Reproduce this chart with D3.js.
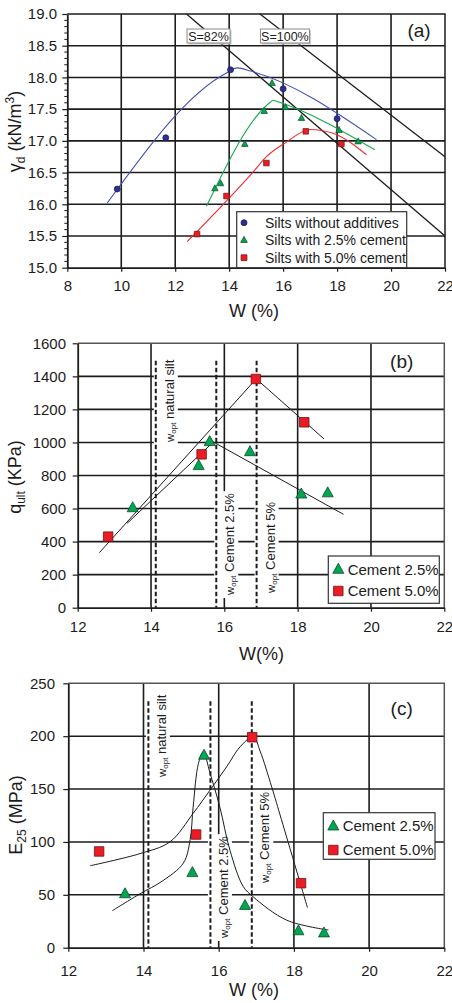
<!DOCTYPE html>
<html><head><meta charset="utf-8">
<script src="https://cdn.jsdelivr.net/npm/d3@7/dist/d3.min.js"></script>
<style>
html,body{margin:0;padding:0;background:#fff;}
svg{display:block;}
</style></head><body>
<svg id="fig" width="452" height="1003"></svg>
<script>
// ---------- (a) compaction: dry unit weight vs water content ----------
const xTicksA = [8, 10, 12, 14, 16, 18, 20, 22];
const yTicksA = [15.0, 15.5, 16.0, 16.5, 17.0, 17.5, 18.0, 18.5, 19.0];
const wPlain = [9.85, 11.65, 14.05, 16.0, 18.0];
const gdPlain = [16.24, 17.05, 18.12, 17.82, 17.35];
const wCem25a = [13.47, 13.68, 14.58, 15.3, 15.59, 16.09, 16.68, 18.07, 18.78];
const gdCem25a = [16.25, 16.33, 16.95, 17.47, 17.91, 17.53, 17.36, 17.17, 16.99];
const wCem50a = [12.81, 13.9, 15.38, 16.84, 18.16];
const gdCem50a = [15.53, 16.13, 16.65, 17.15, 16.95];
// fitted compaction curves
const fitPlainW = [9.48, 13.9, 14.3, 14.8, 19.46];
const fitPlainG = [16.02, 18.07, 18.15, 18.1, 17.02];
const fitC25W = [13.16, 15.5, 15.63, 15.78, 19.4];
const fitC25G = [15.97, 17.6, 17.64, 17.62, 16.86];
const fitC50W = [12.44, 14.95, 15.38, 16.12, 16.99, 17.85, 19.09];
const fitC50G = [15.41, 16.54, 16.75, 16.98, 17.18, 17.12, 16.78];
// saturation lines
const satW82 = [12.42, 22], satG82 = [19.0, 15.5];
const satW100 = [15.14, 22], satG100 = [19.0, 16.75];
const satNames = ["S=82%", "S=100%"];
const seriesA = ["Silts without additives", "Silts with 2.5% cement", "Silts with 5.0% cement"];

// ---------- (b) ultimate strength ----------
const xTicksBC = [12, 14, 16, 18, 20, 22];
const yTicksB = [0, 200, 400, 600, 800, 1000, 1200, 1400, 1600];
const wCem25b = [13.5, 15.3, 15.6, 16.7, 18.1, 18.82];
const qCem25 = [605, 860, 1005, 944, 688, 695];
const wCem50b = [12.83, 15.38, 16.86, 18.18];
const qCem50 = [430, 928, 1384, 1122];
const trendC25W = [13.35, 15.7, 19.25], trendC25Q = [511, 1003, 565];
const trendC50W = [12.59, 16.87, 18.72], trendC50Q = [333, 1385, 1021];

// optimum water contents (shared by b and c)
const wOpt = [14.13, 15.78, 16.88];
const wOptNames = ["natural silt", "Cement 2.5%", "Cement 5%"];
const seriesBC = ["Cement 2.5%", "Cement 5.0%"];

// ---------- (c) secant modulus E25 ----------
const yTicksC = [0, 50, 100, 150, 200, 250];
const wCem25c = [13.51, 15.3, 15.61, 16.7, 18.12, 18.8];
const eCem25 = [51, 71, 182, 40, 16, 14];
const wCem50c = [12.82, 15.4, 16.89, 18.19];
const eCem50 = [91, 107, 199, 61];
const curveC25W = [13.17, 13.91, 14.5, 15.06, 15.24, 15.32, 15.46, 15.59, 15.77, 16.03, 16.3, 16.65, 16.92, 17.81, 18.92];
const curveC25E = [35, 51, 63, 80, 102, 133, 174, 185, 165, 133, 92, 58, 48, 26, 16.7];
const curveC50W = [12.58, 13.91, 14.7, 15.32, 15.77, 16.21, 16.57, 16.92, 17.1, 17.41, 17.67, 18.36];
const curveC50E = [77.5, 89, 100, 127, 149, 171, 190, 199.5, 186, 152, 121, 38];

// ---------- drawing ----------
const FONT = '"Liberation Sans", Arial, Helvetica, sans-serif';
const INK = '#1c1c1c';
const COL = {
  plain: '#2e3192', plainEdge: '#15174d', plainLine: '#4450b4',
  c25: '#00a651', c25Edge: '#0b4d26', c25Line: '#12aa4f',
  c50: '#ed1c24', c50Edge: '#6b1515', c50Line: '#ee2b2b'
};
const svg = d3.select('#fig').attr('font-family', FONT);
svg.append('rect').attr('width', 452).attr('height', 1003).attr('fill', '#fff');

const tri = (w, h) => `M0,${-h * 0.6}L${w / 2},${h * 0.4}L${-w / 2},${h * 0.4}Z`;
const sq = s => `M${-s / 2},${-s / 2}h${s}v${s}h${-s}Z`;

function panel(o) {
  const x = d3.scaleLinear(o.xDom, [o.left, o.right]);
  const y = d3.scaleLinear(o.yDom, [o.bottom, o.top]);
  const root = svg.append('g');
  const L = {};
  ['grid', 'boxes', 'refs', 'axes', 'marks', 'keys'].forEach(k => L[k] = root.append('g'));
  L.grid.selectAll(null).data(o.gridX).join('line')
    .attr('x1', d => x(d)).attr('x2', d => x(d)).attr('y1', o.top).attr('y2', o.bottom)
    .attr('stroke', INK).attr('stroke-width', 1.6);
  L.grid.selectAll(null).data(o.gridY).join('line')
    .attr('y1', d => y(d)).attr('y2', d => y(d)).attr('x1', o.left).attr('x2', o.right)
    .attr('stroke', INK).attr('stroke-width', 1.6);
  L.axes.append('path').attr('d', `M${o.left},${o.top}H${o.right}V${o.bottom}`)
    .attr('fill', 'none').attr('stroke', o.frame).attr('stroke-width', 1.5);
  const ay = L.axes.append('g').attr('transform', `translate(${o.left},0)`)
    .call(d3.axisLeft(y).tickValues(o.yTicks).tickFormat(o.yFmt).tickSize(5).tickPadding(o.yPad).tickSizeOuter(0));
  const ax = L.axes.append('g').attr('transform', `translate(0,${o.bottom})`)
    .call(d3.axisBottom(x).tickValues(o.xTicks).tickFormat(d3.format('d')).tickSize(4).tickPadding(o.xPad).tickSizeOuter(0));
  [ay, ax].forEach(a => {
    a.attr('font-family', FONT);
    a.selectAll('text').attr('font-size', 15).attr('fill', INK);
    a.selectAll('line').attr('stroke', INK).attr('stroke-width', 1.2);
    a.select('.domain').attr('stroke', INK).attr('stroke-width', 1.8);
  });
  // axis titles
  L.axes.append('text').attr('x', o.xTitle[0]).attr('y', o.xTitle[1])
    .attr('text-anchor', 'middle').attr('font-size', 18).attr('fill', INK).text(o.xLabel);
  const yt = L.axes.append('text').attr('text-anchor', 'middle').attr('font-size', 18).attr('fill', INK)
    .attr('transform', `translate(${o.yTitle[0]},${o.yTitle[1]}) rotate(-90)`);
  o.yLabel.forEach(p => {
    const s = yt.append('tspan').text(p.t);
    if (p.sub) s.attr('font-size', 12).attr('dy', 4);
    if (p.sup) s.attr('font-size', 12).attr('dy', -7);
    if (p.back) s.attr('dy', p.back);
  });
  L.axes.append('text').attr('x', o.tag[0]).attr('y', o.tag[1]).attr('text-anchor', 'middle')
    .attr('font-size', 19).attr('fill', INK).text(o.tagText);
  return { x, y, L };
}

function woptLabels(P, yTop, bottoms, offset) {
  const { x, y, L } = P;
  wOpt.forEach((w, i) => {
    const xb = x(w) + offset, yb = bottoms[i];
    const t = L.refs.append('text').attr('font-size', 13).attr('fill', INK)
      .attr('transform', `translate(${xb},${yb}) rotate(-90)`);
    t.append('tspan').attr('font-size', 11.5).text('w');
    t.append('tspan').attr('font-size', 8).attr('dy', 2).text('opt');
    t.append('tspan').attr('dy', -2).text(' ' + wOptNames[i]);
    const len = t.node().getComputedTextLength();
    L.boxes.append('rect').attr('x', xb - 20).attr('y', yb - len - 2)
      .attr('width', 24).attr('height', len + 5).attr('fill', '#fff');
    L.refs.insert('line', 'text').attr('x1', x(w)).attr('x2', x(w)).attr('y1', y(yTop)).attr('y2', y.range()[0])
      .attr('stroke', INK).attr('stroke-width', 2).attr('stroke-dasharray', '4.5,2.5');
  });
}

function legendBox(L, box, rows, font, symX, textX) {
  L.keys.append('rect').attr('x', box[0]).attr('y', box[1]).attr('width', box[2]).attr('height', box[3])
    .attr('fill', '#fff').attr('stroke', '#333').attr('stroke-width', 1.2);
  rows.forEach(r => {
    L.keys.append('path').attr('d', r.d).attr('transform', `translate(${symX},${r.y})`)
      .attr('fill', r.fill).attr('stroke', r.edge).attr('stroke-width', 0.8);
    L.keys.append('text').attr('x', textX).attr('y', r.y + font * 0.36).attr('font-size', font)
      .attr('fill', INK).text(r.label);
  });
}

// ----- panel (a)
const A = panel({
  xDom: [8, 22], yDom: [15, 19], left: 67.3, right: 445, top: 14, bottom: 267.7,
  gridX: [10, 12, 14, 16, 18, 20], gridY: [15.5, 16, 16.5, 17, 17.5, 18, 18.5],
  xTicks: xTicksA, yTicks: yTicksA, yFmt: d3.format('.1f'), yPad: 5.3, xPad: 9, frame: INK,
  xLabel: 'W (%)', xTitle: [254, 316.5],
  yLabel: [{ t: 'γ' }, { t: 'd', sub: true }, { t: ' (kN/m', back: -4 }, { t: '3', sup: true }, { t: ')', back: 7 }],
  yTitle: [21, 131.5], tag: [419, 37], tagText: '(a)'
});
// minor ticks on the unit-weight axis
A.L.axes.selectAll(null).data(d3.range(150, 191).filter(v => v % 5 !== 0).map(v => v / 10)).join('line')
  .attr('x1', 67.3 - 3).attr('x2', 67.3).attr('y1', d => A.y(d)).attr('y2', d => A.y(d))
  .attr('stroke', INK).attr('stroke-width', 1);
// saturation lines with their labels
[[satW82, satG82], [satW100, satG100]].forEach(([ws, gs]) => {
  A.L.refs.append('line').attr('x1', A.x(ws[0])).attr('y1', A.y(gs[0])).attr('x2', A.x(ws[1])).attr('y2', A.y(gs[1]))
    .attr('stroke', INK).attr('stroke-width', 1.3);
});
[[satW82, satG82], [satW100, satG100]].forEach(([ws], i) => {
  const bx = A.x(ws[0]) + 0.5, tw = i === 0 ? 43 : 49;
  A.L.refs.append('rect').attr('x', bx + 1.5).attr('y', 30.5).attr('width', tw).attr('height', 14).attr('fill', '#c8c8c8');
  A.L.refs.append('rect').attr('x', bx).attr('y', 29).attr('width', tw).attr('height', 14)
    .attr('fill', '#fff').attr('stroke', '#8a8a8a').attr('stroke-width', 1);
  A.L.refs.append('text').attr('x', bx + tw / 2).attr('y', 40.5).attr('text-anchor', 'middle')
    .attr('font-size', 12.5).attr('fill', INK).text(satNames[i]);
});
const lineA = d3.line().x(d => A.x(d[0])).y(d => A.y(d[1])).curve(d3.curveMonotoneX);
[[fitPlainW, fitPlainG, COL.plainLine], [fitC25W, fitC25G, COL.c25Line], [fitC50W, fitC50G, COL.c50Line]]
  .forEach(([ws, gs, c]) => A.L.marks.append('path').datum(d3.zip(ws, gs)).attr('d', lineA)
    .attr('fill', 'none').attr('stroke', c).attr('stroke-width', 1.1));
A.L.marks.selectAll(null).data(d3.zip(wPlain, gdPlain)).join('circle')
  .attr('cx', d => A.x(d[0])).attr('cy', d => A.y(d[1])).attr('r', 3)
  .attr('fill', COL.plain).attr('stroke', COL.plainEdge).attr('stroke-width', 0.7);
A.L.marks.selectAll(null).data(d3.zip(wCem25a, gdCem25a)).join('path')
  .attr('d', tri(6.5, 6)).attr('transform', d => `translate(${A.x(d[0])},${A.y(d[1])})`)
  .attr('fill', COL.c25).attr('stroke', COL.c25Edge).attr('stroke-width', 0.7);
A.L.marks.selectAll(null).data(d3.zip(wCem50a, gdCem50a)).join('path')
  .attr('d', sq(5.6)).attr('transform', d => `translate(${A.x(d[0])},${A.y(d[1])})`)
  .attr('fill', COL.c50).attr('stroke', COL.c50Edge).attr('stroke-width', 0.7);
legendBox(A.L, [236.7, 211.7, 170, 56], [
  { d: d3.symbol(d3.symbolCircle, 28)(), y: 222.7, fill: COL.plain, edge: COL.plainEdge, label: seriesA[0] },
  { d: tri(6.5, 6), y: 240, fill: COL.c25, edge: COL.c25Edge, label: seriesA[1] },
  { d: sq(5.8), y: 257.7, fill: COL.c50, edge: COL.c50Edge, label: seriesA[2] }
], 14, 244, 265);

// ----- panel (b)
const B = panel({
  xDom: [12, 22], yDom: [0, 1600], left: 77.7, right: 444.3, top: 343.3, bottom: 607.7,
  gridX: [14, 16, 18, 20], gridY: [200, 400, 600, 800, 1000, 1200, 1400],
  xTicks: xTicksBC, yTicks: yTicksB, yFmt: d3.format('d'), yPad: 6.7, xPad: 9.6, frame: '#555',
  xLabel: 'W(%)', xTitle: [261.5, 659.5],
  yLabel: [{ t: 'q' }, { t: 'ult', sub: true }, { t: ' (KPa)', back: -4 }],
  yTitle: [21, 477], tag: [401.7, 368], tagText: '(b)'
});
woptLabels(B, 1495, [442, 595, 593], 18);
const lineB = d3.line().x(d => B.x(d[0])).y(d => B.y(d[1]));
[[trendC25W, trendC25Q], [trendC50W, trendC50Q]].forEach(([ws, qs]) =>
  B.L.marks.append('path').datum(d3.zip(ws, qs)).attr('d', lineB)
    .attr('fill', 'none').attr('stroke', INK).attr('stroke-width', 1));
B.L.marks.selectAll(null).data(d3.zip(wCem25b, qCem25)).join('path')
  .attr('d', tri(11, 10)).attr('transform', d => `translate(${B.x(d[0])},${B.y(d[1])})`)
  .attr('fill', COL.c25).attr('stroke', COL.c25Edge).attr('stroke-width', 0.8);
B.L.marks.selectAll(null).data(d3.zip(wCem50b, qCem50)).join('path')
  .attr('d', sq(9.5)).attr('transform', d => `translate(${B.x(d[0])},${B.y(d[1])})`)
  .attr('fill', COL.c50).attr('stroke', COL.c50Edge).attr('stroke-width', 0.8);
legendBox(B.L, [328.3, 556, 111, 47.3], [
  { d: tri(11, 10), y: 569.3, fill: COL.c25, edge: COL.c25Edge, label: seriesBC[0] },
  { d: sq(9.5), y: 591, fill: COL.c50, edge: COL.c50Edge, label: seriesBC[1] }
], 15, 338.3, 347.7);

// ----- panel (c)
const C = panel({
  xDom: [12, 22], yDom: [0, 250], left: 68.3, right: 444.3, top: 683.3, bottom: 947.7,
  gridX: [14, 16, 18, 20], gridY: [50, 100, 150, 200],
  xTicks: xTicksBC, yTicks: yTicksC, yFmt: d3.format('d'), yPad: 8.3, xPad: 13.6, frame: '#555',
  xLabel: 'W (%)', xTitle: [254, 996],
  yLabel: [{ t: 'E' }, { t: '25', sub: true }, { t: ' (MPa)', back: -4 }],
  yTitle: [22, 815], tag: [401.7, 714.5], tagText: '(c)'
});
woptLabels(C, 233, [777, 938, 883], 17.5);
const lineC = d3.line().x(d => C.x(d[0])).y(d => C.y(d[1])).curve(d3.curveCatmullRom.alpha(0.5));
[[curveC25W, curveC25E], [curveC50W, curveC50E]].forEach(([ws, es]) =>
  C.L.marks.append('path').datum(d3.zip(ws, es)).attr('d', lineC)
    .attr('fill', 'none').attr('stroke', INK).attr('stroke-width', 1));
C.L.marks.selectAll(null).data(d3.zip(wCem25c, eCem25)).join('path')
  .attr('d', tri(11, 10)).attr('transform', d => `translate(${C.x(d[0])},${C.y(d[1])})`)
  .attr('fill', COL.c25).attr('stroke', COL.c25Edge).attr('stroke-width', 0.8);
C.L.marks.selectAll(null).data(d3.zip(wCem50c, eCem50)).join('path')
  .attr('d', sq(9.5)).attr('transform', d => `translate(${C.x(d[0])},${C.y(d[1])})`)
  .attr('fill', COL.c50).attr('stroke', COL.c50Edge).attr('stroke-width', 0.8);
legendBox(C.L, [323.3, 812.7, 111.7, 46.6], [
  { d: tri(11, 10), y: 826, fill: COL.c25, edge: COL.c25Edge, label: seriesBC[0] },
  { d: sq(9.5), y: 850, fill: COL.c50, edge: COL.c50Edge, label: seriesBC[1] }
], 15, 333.3, 342.7);
</script>
</body></html>
